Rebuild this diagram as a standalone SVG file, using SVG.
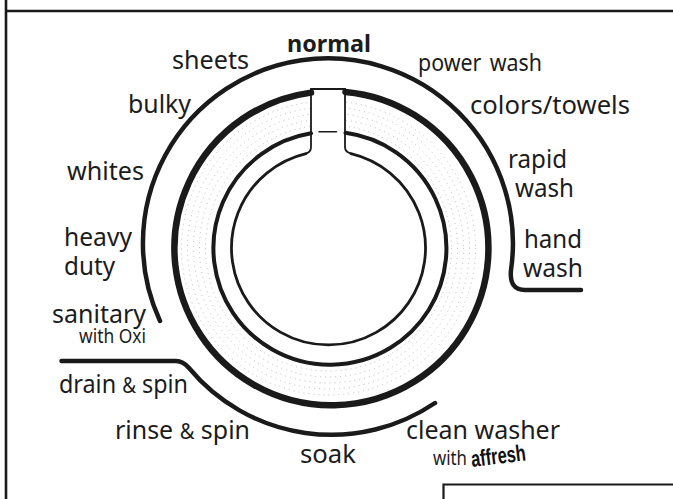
<svg xmlns="http://www.w3.org/2000/svg" width="673" height="499" viewBox="0 0 673 499">
<style>
text{font-family:"Noto Sans","Open Sans",sans-serif;font-size:26px;fill:#1c1c1c}
.s{font-size:19px}
.a{font-size:21px}
.l{fill:none;stroke:#1a1a1a;stroke-linecap:round}
.t{fill:none;stroke:#a8a8a8;stroke-width:.8;stroke-dasharray:1 4}
</style>
<rect width="673" height="499" fill="#fff"/>
<g id="frame" fill="none" stroke="#1a1a1a">
<path d="M6 0V499" stroke-width="2.600"/>
<path d="M6 11H673" stroke-width="2.600"/>
<path d="M443.500 499V484.500H673" stroke-width="2.200"/>
</g>
<g id="texture">
<circle class="t" cx="328.500" cy="248" r="123"/>
<circle class="t" cx="328.500" cy="248" r="129"/>
<circle class="t" cx="328.500" cy="248" r="135"/>
<circle class="t" cx="328.500" cy="248" r="141"/>
<circle class="t" cx="328.500" cy="248" r="147"/>
<rect x="312" y="85" width="33" height="70" fill="#fff"/>
</g>
<g id="connectors">
<path class="l" stroke-width="4.500" d="M160 321A185 185 0 1 1 511 270Q509 290 525 290H581"/>
<path class="l" stroke-width="4.500" d="M61.500 361H176Q183 361 189 368A185 185 0 0 0 435 403"/>
</g>
<g id="dial">
<path class="l" stroke-linecap="butt" stroke-width="6.500" d="M311 92.600A157 157 0 1 0 345.500 91.900"/>
<path class="l" stroke-linecap="butt" stroke-width="4" d="M311 133.300A116.500 116.500 0 1 0 345.500 132.800"/>
<path class="l" stroke-width="2.800" d="M306 153.600A97 97 0 1 0 351 153.600"/>
<path class="l" stroke-width="1.800" d="M306 153.600Q311 152 311 147V89H345V147Q345 152 351 153.600"/>
<path class="l" stroke-width="1.500" d="M319 131.700H336.500"/>
</g>
<g id="labels">
<text x="287" y="52" textLength="84" lengthAdjust="spacingAndGlyphs" font-weight="700" style="font-size:24px">normal</text>
<text x="172" y="69" textLength="77" lengthAdjust="spacingAndGlyphs">sheets</text>
<text x="128" y="113" textLength="63" lengthAdjust="spacingAndGlyphs">bulky</text>
<text x="67" y="180" textLength="77" lengthAdjust="spacingAndGlyphs">whites</text>
<text x="64" y="246" textLength="68" lengthAdjust="spacingAndGlyphs">heavy</text>
<text x="64" y="275" textLength="51" lengthAdjust="spacingAndGlyphs">duty</text>
<text x="52" y="323" textLength="94" lengthAdjust="spacingAndGlyphs">sanitary</text>
<text class="s" x="79" y="343" textLength="67" lengthAdjust="spacingAndGlyphs">with Oxi</text>
<text x="59" y="393" textLength="129" lengthAdjust="spacingAndGlyphs">drain <tspan class="a">&amp;</tspan> spin</text>
<text x="115" y="439" textLength="135" lengthAdjust="spacingAndGlyphs">rinse <tspan class="a">&amp;</tspan> spin</text>
<text x="300" y="463" textLength="56" lengthAdjust="spacingAndGlyphs">soak</text>
<text x="406" y="439" textLength="154" lengthAdjust="spacingAndGlyphs">clean washer</text>
<text class="s" x="433" y="465" textLength="34" lengthAdjust="spacingAndGlyphs">with</text>
<text transform="translate(472 467) rotate(-7)" textLength="55" lengthAdjust="spacingAndGlyphs" font-weight="700" style="font-family:'Liberation Sans',sans-serif;font-size:23px;fill:#111">affresh</text>
<text x="418" y="71" textLength="124" lengthAdjust="spacingAndGlyphs" style="font-size:23px;word-spacing:3px">power wash</text>
<text x="470" y="114" textLength="160" lengthAdjust="spacingAndGlyphs">colors/towels</text>
<text x="508" y="168" textLength="59" lengthAdjust="spacingAndGlyphs">rapid</text>
<text x="515" y="197" textLength="59" lengthAdjust="spacingAndGlyphs">wash</text>
<text x="524" y="248" textLength="58" lengthAdjust="spacingAndGlyphs">hand</text>
<text x="523" y="277" textLength="60" lengthAdjust="spacingAndGlyphs">wash</text>
</g>
</svg>
